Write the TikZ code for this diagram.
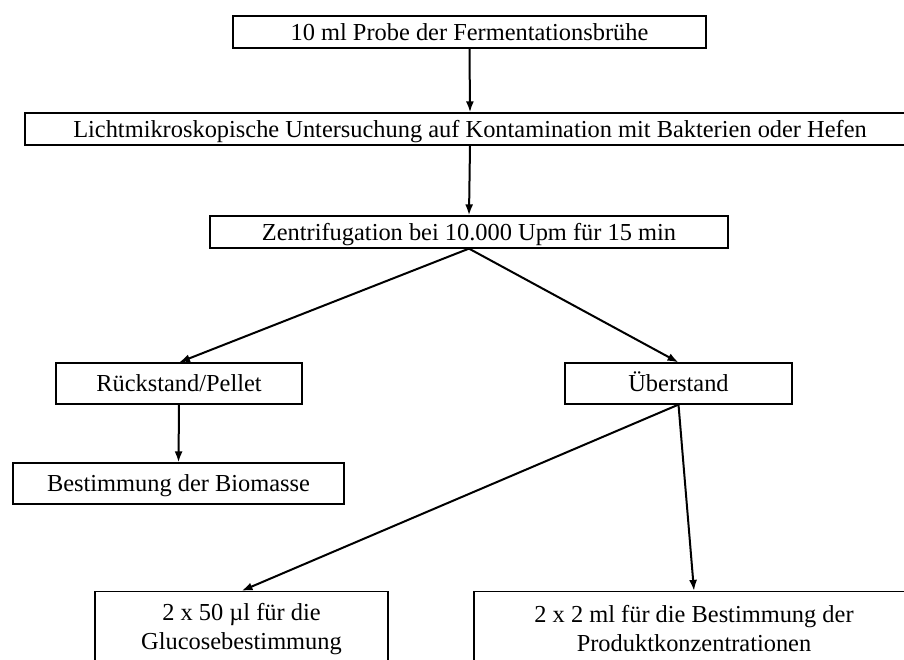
\documentclass[tikz,border=0pt]{standalone}
\usepackage{fontspec}
\setmainfont{Liberation Serif}
\usetikzlibrary{arrows.meta}
\begin{document}
\begin{tikzpicture}[x=1pt,y=-1pt,
  box/.style={draw, line width=1.2pt, inner sep=0pt, align=center,
    font=\fontsize{24.4}{29}\selectfont},
  oneline/.style={text height=17pt, text depth=1pt},
  arr/.style={-{Latex[length=11pt,width=8pt]}, line width=2pt}]
\useasboundingbox (0,0) rectangle (904,659);
\clip (0,0) rectangle (904,659);
\node[box, oneline, minimum width=473pt, minimum height=32pt] (b1) at (469.5,32) {10 ml Probe der Fermentationsbrühe};
\node[box, oneline, minimum width=890pt, minimum height=32pt] (b2) at (470,129) {Lichtmikroskopische Untersuchung auf Kontamination mit Bakterien oder Hefen};
\node[box, oneline, minimum width=518pt, minimum height=32pt] (b3) at (469,232) {Zentrifugation bei 10.000 Upm für 15 min};
\node[box, oneline, minimum width=246pt, minimum height=41pt] (b4) at (179,383.5) {Rückstand/Pellet};
\node[box, oneline, minimum width=227pt, minimum height=41pt] (b5) at (678.5,383.5) {Überstand};
\node[box, oneline, minimum width=331pt, minimum height=41pt] (b6) at (178.5,483.5) {Bestimmung der Biomasse};
\node[box, minimum width=293pt, minimum height=75pt] (b7) at (241.5,629) {2 x 50 µl für die\\Glucosebestimmung};
\node[box, minimum width=440pt, minimum height=75pt] (b8) at (694,629) {2 x 2 ml für die Bestimmung der\\Produktkonzentrationen};
\draw[arr] (b1.south) -- (b2.north);
\draw[arr] (b2.south) -- (b3.north);
\draw[arr] (b3.south) -- (b4.north);
\draw[arr] (b3.south) -- (b5.north);
\draw[arr] (b4.south) -- (b6.north);
\draw[arr] (b5.south) -- (b7.north);
\draw[arr] (b5.south) -- (b8.north);
\end{tikzpicture}
\end{document}
